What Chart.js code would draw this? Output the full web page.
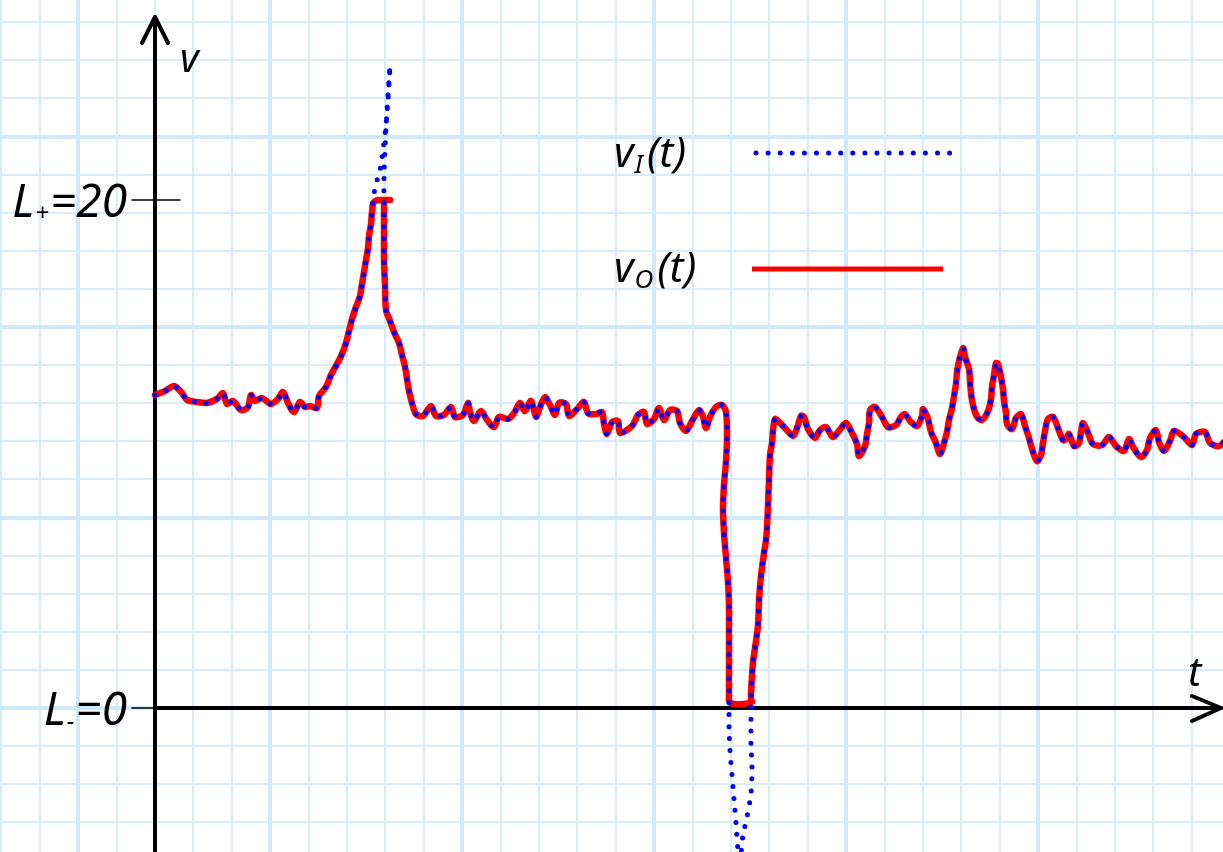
<!DOCTYPE html>
<html>
<head>
<meta charset="utf-8">
<script src="https://cdn.jsdelivr.net/npm/chart.js@4.4.1/dist/chart.umd.min.js"></script>
<style>
  html, body { margin: 0; padding: 0; background: #fff; }
  #wrap { width: 1223px; height: 852px; position: relative; }
</style>
</head>
<body>
<div id="wrap"><canvas id="chart"></canvas></div>
<script>
// time samples (arbitrary units) and the two signals
const times = [
  0, 10, 19, 27, 32, 42, 52, 62, 68, 72, 78, 86, 93, 96, 100, 107, 116, 123, 128, 133,
  139, 145, 150, 155, 162, 164, 171, 176, 182, 187, 191, 194, 197, 201, 205, 207, 209, 211, 213, 214,
  216, 217, 218, 220, 223, 226, 228, 231, 233, 235, 232, 230, 229, 229, 229, 229, 230, 231, 235, 239,
  244, 247, 250, 252, 254, 257, 261, 268, 276, 281, 289, 296, 300, 308, 313, 315, 319, 326, 332, 339,
  344, 353, 359, 365, 370, 376, 381, 385, 390, 395, 400, 404, 411, 414, 423, 429, 433, 441, 447, 449,
  452, 457, 463, 465, 477, 483, 489, 492, 499, 504, 509, 515, 522, 525, 531, 537, 544, 548, 551, 555,
  561, 567, 571, 572, 571, 569, 568, 569, 571, 573, 574, 574, 574, 574, 574, 574, 575, 577, 579, 581,
  583, 585, 588, 592, 596, 597, 596, 596, 596, 598, 600, 603, 604, 606, 609, 611, 612, 613, 614, 615,
  617, 618, 620, 624, 630, 638, 642, 646, 649, 653, 660, 665, 671, 678, 686, 691, 697, 702, 704, 710,
  712, 714, 715, 720, 727, 733, 741, 746, 750, 755, 762, 767, 768, 773, 776, 781, 785, 789, 792, 794,
  797, 799, 801, 802, 804, 808, 810, 814, 815, 816, 818, 822, 827, 833, 836, 837, 839, 841, 843, 846,
  848, 849, 851, 852, 857, 861, 866, 870, 874, 877, 882, 886, 888, 890, 893, 898, 903, 908, 911, 914,
  919, 924, 926, 928, 933, 938, 947, 954, 961, 969, 974, 978, 986, 992, 995, 1001, 1004, 1009, 1015, 1019,
  1029, 1037, 1041, 1050, 1055, 1064, 1070
];
const vIn = [
  12.32, 12.48, 12.68, 12.40, 12.13, 12.05, 12.01, 12.17, 12.40, 11.97, 12.09, 11.73, 11.85, 12.32, 12.09, 12.20, 11.97, 12.17, 12.44, 12.01,
  11.65, 12.05, 11.85, 11.89, 11.81, 12.28, 12.64, 13.11, 13.54, 13.94, 14.37, 14.84, 15.31, 15.79, 16.22, 16.69, 17.17, 17.64, 18.11, 18.58,
  19.06, 19.53, 19.96, 20.47, 20.91, 21.38, 21.97, 22.95, 23.94, 25.28, 23.54, 21.97, 20.91, 19.96, 18.54, 17.60, 16.61, 15.67, 15.24, 14.80,
  14.37, 13.90, 13.43, 12.95, 12.48, 12.01, 11.57, 11.50, 11.89, 11.50, 11.54, 11.85, 11.46, 11.54, 12.01, 11.65, 11.30, 11.69, 11.34, 11.06,
  11.46, 11.38, 11.61, 12.01, 11.69, 12.09, 11.46, 11.85, 12.24, 11.93, 11.54, 12.01, 11.97, 11.50, 11.81, 12.05, 11.61, 11.57, 11.65, 11.18,
  10.79, 11.26, 11.30, 10.83, 11.10, 11.54, 11.65, 11.18, 11.38, 11.81, 11.34, 11.73, 11.69, 11.22, 10.91, 11.30, 11.73, 11.46, 11.02, 11.46,
  11.85, 11.93, 11.65, 10.67, 9.72, 8.78, 7.83, 6.89, 5.91, 4.96, 4.02, 3.07, 2.13, 1.18, 0.24, -0.75, -1.69, -2.64, -3.58, -4.53,
  -5.59, -5.98, -5.00, -4.29, -3.35, -2.40, -1.46, -0.51, 0.43, 1.81, 2.36, 3.27, 4.21, 5.20, 6.10, 6.61, 7.09, 8.03, 8.98, 9.96,
  10.43, 10.91, 11.38, 11.26, 11.02, 10.71, 11.02, 11.50, 11.46, 10.98, 10.63, 10.94, 11.06, 10.67, 11.02, 11.22, 10.83, 10.39, 9.92, 10.31,
  10.79, 11.22, 11.73, 11.85, 11.46, 11.06, 11.14, 11.46, 11.57, 11.30, 11.10, 11.50, 11.77, 11.38, 10.87, 10.43, 10.00, 10.43, 10.87, 11.34,
  11.81, 12.28, 12.76, 13.23, 13.66, 14.17, 13.82, 13.35, 12.87, 12.40, 11.93, 11.46, 11.34, 11.69, 12.17, 12.64, 13.11, 13.58, 13.54, 13.03,
  12.56, 12.09, 11.61, 11.18, 10.98, 11.42, 11.57, 11.10, 10.63, 10.20, 9.72, 9.96, 10.43, 10.91, 11.38, 11.46, 11.02, 10.55, 10.59, 10.79,
  10.31, 10.43, 10.87, 11.22, 10.83, 10.39, 10.35, 10.67, 10.31, 10.12, 10.59, 10.28, 9.88, 10.16, 10.63, 10.94, 10.47, 10.12, 10.51, 10.91,
  10.67, 10.35, 10.79, 10.87, 10.43, 10.31, 10.51
];
const vOut = [
  12.32, 12.48, 12.68, 12.40, 12.13, 12.05, 12.01, 12.17, 12.40, 11.97, 12.09, 11.73, 11.85, 12.32, 12.09, 12.20, 11.97, 12.17, 12.44, 12.01,
  11.65, 12.05, 11.85, 11.89, 11.81, 12.28, 12.64, 13.11, 13.54, 13.94, 14.37, 14.84, 15.31, 15.79, 16.22, 16.69, 17.17, 17.64, 18.11, 18.58,
  19.06, 19.53, 19.85, 19.95, 20, 20, 20, 20, 20, 20, 20, 20, 19.95, 19.85, 18.54, 17.60, 16.61, 15.67, 15.24, 14.80,
  14.37, 13.90, 13.43, 12.95, 12.48, 12.01, 11.57, 11.50, 11.89, 11.50, 11.54, 11.85, 11.46, 11.54, 12.01, 11.65, 11.30, 11.69, 11.34, 11.06,
  11.46, 11.38, 11.61, 12.01, 11.69, 12.09, 11.46, 11.85, 12.24, 11.93, 11.54, 12.01, 11.97, 11.50, 11.81, 12.05, 11.61, 11.57, 11.65, 11.18,
  10.79, 11.26, 11.30, 10.83, 11.10, 11.54, 11.65, 11.18, 11.38, 11.81, 11.34, 11.73, 11.69, 11.22, 10.91, 11.30, 11.73, 11.46, 11.02, 11.46,
  11.85, 11.93, 11.65, 10.67, 9.72, 8.78, 7.83, 6.89, 5.91, 4.96, 4.02, 3.07, 2.13, 1.18, 0.55, 0.30, 0.22, 0.18, 0.16, 0.15,
  0.15, 0.15, 0.16, 0.18, 0.22, 0.26, 0.32, 0.40, 0.60, 1.81, 2.36, 3.27, 4.21, 5.20, 6.10, 6.61, 7.09, 8.03, 8.98, 9.96,
  10.43, 10.91, 11.38, 11.26, 11.02, 10.71, 11.02, 11.50, 11.46, 10.98, 10.63, 10.94, 11.06, 10.67, 11.02, 11.22, 10.83, 10.39, 9.92, 10.31,
  10.79, 11.22, 11.73, 11.85, 11.46, 11.06, 11.14, 11.46, 11.57, 11.30, 11.10, 11.50, 11.77, 11.38, 10.87, 10.43, 10.00, 10.43, 10.87, 11.34,
  11.81, 12.28, 12.76, 13.23, 13.66, 14.17, 13.82, 13.35, 12.87, 12.40, 11.93, 11.46, 11.34, 11.69, 12.17, 12.64, 13.11, 13.58, 13.54, 13.03,
  12.56, 12.09, 11.61, 11.18, 10.98, 11.42, 11.57, 11.10, 10.63, 10.20, 9.72, 9.96, 10.43, 10.91, 11.38, 11.46, 11.02, 10.55, 10.59, 10.79,
  10.31, 10.43, 10.87, 11.22, 10.83, 10.39, 10.35, 10.67, 10.31, 10.12, 10.59, 10.28, 9.88, 10.16, 10.63, 10.94, 10.47, 10.12, 10.51, 10.91,
  10.67, 10.35, 10.79, 10.87, 10.43, 10.31, 10.51
];

// limiter levels shown on the v axis
const levelValues = [20, 0];
const levelSigns = ['+', '-'];
const levelTexts = ['=20', '=0'];

// legend entries
const seriesSubs = ['I', 'O'];
const seriesColors = ['#0000ff', '#ff0000'];

// graph paper
const tStep = 38.4;   // one small square along t
const vStep = 1.5;    // one small square along v
const paperMinor = '#d8edfb';
const paperMajor = '#cfe8fa';

const FONT = "'Noto Sans', 'DejaVu Sans', sans-serif";

function drawParts(ctx, parts, x, base) {
  let cx = x;
  parts.forEach(p => {
    ctx.font = 'italic ' + p.size + 'px ' + FONT;
    ctx.fillText(p.text, cx, base + (p.dy || 0));
    cx += ctx.measureText(p.text).width + (p.gap || 0);
  });
  return cx;
}
function partsWidth(ctx, parts) {
  let w = 0;
  parts.forEach(p => {
    ctx.font = 'italic ' + p.size + 'px ' + FONT;
    w += ctx.measureText(p.text).width + (p.gap || 0);
  });
  return w;
}

const sketch = {
  id: 'sketch',
  beforeDatasetsDraw(chart) {
    const { ctx, scales: { x, y } } = chart;
    const x0 = x.getPixelForValue(0);
    const y0 = y.getPixelForValue(0);
    ctx.save();
    ctx.strokeStyle = '#000';
    ctx.lineCap = 'round';
    ctx.lineJoin = 'round';

    // level ticks
    ctx.lineWidth = 1.5;
    levelValues.forEach(v => {
      const py = y.getPixelForValue(v);
      ctx.beginPath();
      ctx.moveTo(x0 - 23, py);
      ctx.lineTo(x0 + 25, py);
      ctx.stroke();
    });

    // axes with arrows
    ctx.lineWidth = 4;
    ctx.beginPath();
    ctx.moveTo(x0, chart.height);
    ctx.lineTo(x0, 17);
    ctx.stroke();
    ctx.beginPath();
    ctx.moveTo(x0 - 13, 43);
    ctx.lineTo(x0, 17);
    ctx.lineTo(x0 + 13, 43);
    ctx.stroke();

    ctx.beginPath();
    ctx.moveTo(x0, y0);
    ctx.lineTo(chart.width - 2, y0);
    ctx.stroke();
    ctx.beginPath();
    ctx.moveTo(chart.width - 31, y0 - 12);
    ctx.lineTo(chart.width - 2, y0);
    ctx.lineTo(chart.width - 31, y0 + 13);
    ctx.stroke();
    ctx.restore();
  },
  afterDatasetsDraw(chart) {
    const { ctx, scales: { x, y } } = chart;
    const x0 = x.getPixelForValue(0);
    ctx.save();
    ctx.fillStyle = '#000';
    ctx.textBaseline = 'alphabetic';

    // level labels L+=20, L-=0
    levelValues.forEach((v, i) => {
      const py = y.getPixelForValue(v);
      const parts = [
        { text: 'L', size: 46, gap: 1 },
        { text: levelSigns[i], size: 24, dy: 4, gap: 1 },
        { text: levelTexts[i], size: 46 }
      ];
      const w = partsWidth(ctx, parts);
      drawParts(ctx, parts, x0 - 28 - w, py + 17);
    });

    // axis names
    drawParts(ctx, [{ text: 'v', size: 40 }], x0 + 25, 72);
    drawParts(ctx, [{ text: 't', size: 40 }], chart.width - 35, y.getPixelForValue(0) - 22);

    // legend
    const rows = [155, 270];
    rows.forEach((ry, i) => {
      ctx.fillStyle = '#000';
      drawParts(ctx, [
        { text: 'v', size: 42, gap: 1 },
        { text: seriesSubs[i], size: 26, dy: 6, gap: 4 },
        { text: '(t)', size: 42 }
      ], 614, ry + 12);

      ctx.beginPath();
      ctx.strokeStyle = seriesColors[i];
      ctx.lineCap = 'round';
      if (i === 0) {
        ctx.lineWidth = 5;
        ctx.setLineDash([0, 12.1]);
        ctx.moveTo(756, ry - 2);
        ctx.lineTo(950, ry - 2);
      } else {
        ctx.lineWidth = 5;
        ctx.lineCap = 'butt';
        ctx.setLineDash([]);
        ctx.moveTo(752, ry - 1);
        ctx.lineTo(943, ry - 1);
      }
      ctx.stroke();
      ctx.setLineDash([]);
    });
    ctx.restore();
  }
};

const ctx = document.getElementById('chart').getContext('2d');
new Chart(ctx, {
  type: 'line',
  data: {
    datasets: [
      {
        label: 'vI(t)',
        data: times.map((t, i) => ({ x: t, y: vIn[i] })),
        borderColor: seriesColors[0],
        borderWidth: 5,
        borderDash: [0, 12],
        borderCapStyle: 'round',
        pointRadius: 0,
        tension: 0.3,
        fill: false
      },
      {
        label: 'vO(t)',
        data: times.map((t, i) => ({ x: t, y: vOut[i] })),
        borderColor: seriesColors[1],
        borderWidth: 6.5,
        borderCapStyle: 'round',
        borderJoinStyle: 'round',
        pointRadius: 0,
        tension: 0.3,
        fill: false
      }
    ]
  },
  options: {
    responsive: true,
    maintainAspectRatio: false,
    animation: false,
    layout: { padding: 0 },
    plugins: {
      legend: { display: false },
      tooltip: { enabled: false }
    },
    scales: {
      x: {
        type: 'linear',
        min: -155,
        max: 1068,
        border: { display: false },
        ticks: { display: false, autoSkip: false },
        afterBuildTicks: axis => {
          const ticks = [];
          for (let k = -4; k <= 27; k++) ticks.push({ value: k * tStep });
          axis.ticks = ticks;
        },
        grid: {
          drawTicks: false,
          color: c => {
            const k = Math.round(c.tick.value / tStep);
            return ((k % 5) + 5) % 5 === 3 ? paperMajor : paperMinor;
          },
          lineWidth: c => {
            const k = Math.round(c.tick.value / tStep);
            return ((k % 5) + 5) % 5 === 3 ? 4 : 2;
          }
        }
      },
      y: {
        type: 'linear',
        min: -144 / 25.4,
        max: 708 / 25.4,
        border: { display: false },
        ticks: { display: false, autoSkip: false },
        afterBuildTicks: axis => {
          const ticks = [];
          for (let k = -3; k <= 18; k++) ticks.push({ value: k * vStep });
          axis.ticks = ticks;
        },
        grid: {
          drawTicks: false,
          color: c => {
            const k = Math.round(c.tick.value / vStep);
            return k % 5 === 0 ? paperMajor : paperMinor;
          },
          lineWidth: c => {
            const k = Math.round(c.tick.value / vStep);
            return k % 5 === 0 ? 4 : 2;
          }
        }
      }
    }
  },
  plugins: [sketch]
});
</script>
</body>
</html>
